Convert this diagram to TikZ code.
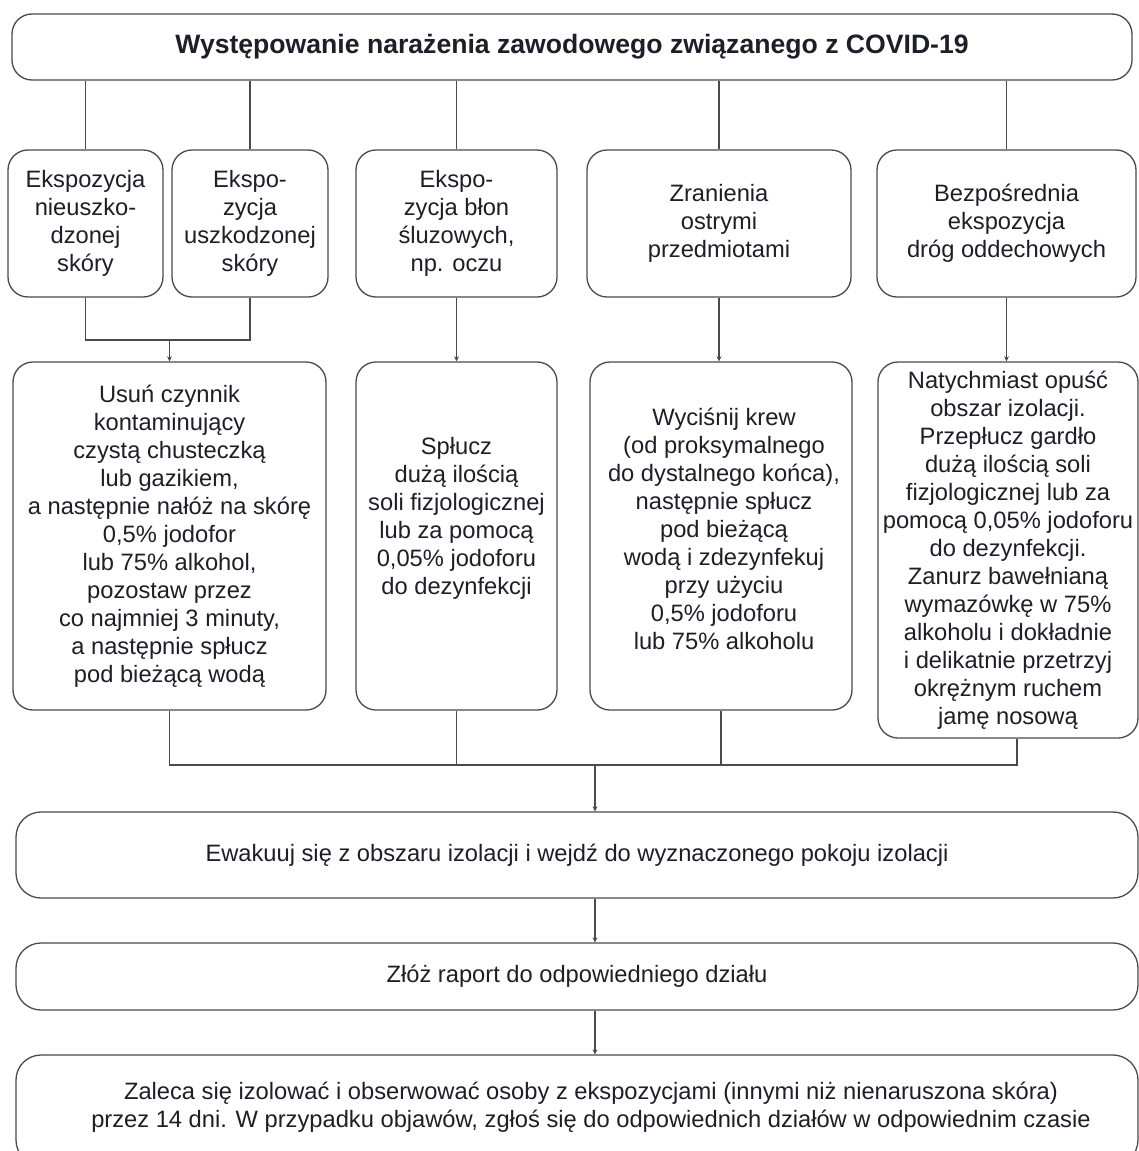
\documentclass[tikz,border=0pt]{standalone}
\usepackage{fontspec}
\setmainfont{Liberation Sans}
\usetikzlibrary{arrows.meta}
\definecolor{txt}{HTML}{1E1E28}
\definecolor{ln}{HTML}{4A4A4A}
\begin{document}
\begin{tikzpicture}[x=1pt,y=-1pt,
  box/.style={draw=ln, line width=1.3pt, rounded corners=20pt, rectangle, align=center,
    inner sep=0pt, text=txt, font=\fontsize{23.7}{28}\selectfont},
  lbl/.style={align=center, inner sep=0pt, text=txt, font=\fontsize{23.7}{28}\selectfont},
  conn/.style={draw=ln, line width=1.3pt},
  arr/.style={conn, -{Stealth[length=5pt,width=5pt]}}]
\useasboundingbox (0,0) rectangle (1139,1151);
\clip (0,0) rectangle (1139,1151);
\fill[white] (0,0) rectangle (1139,1151);

\node[box, minimum width=1120, minimum height=66, font=\fontsize{26.6}{30}\selectfont\bfseries] (top) at (572,47)
  {Występowanie narażenia zawodowego związanego z COVID-19};

\node[box, minimum width=155, minimum height=147] (b1) at (85.5,223.5)
  {Ekspozycja\\nieuszko-\\dzonej\\skóry};
\node[box, minimum width=156, minimum height=147] (b2) at (250,223.5)
  {Ekspo-\\zycja\\uszkodzonej\\skóry};
\node[box, minimum width=201, minimum height=147] (b3) at (456.5,223.5)
  {Ekspo-\\zycja błon\\śluzowych,\\np. oczu};
\node[box, minimum width=264, minimum height=147] (b4) at (719,223.5)
  {Zranienia\\ostrymi\\przedmiotami};
\node[box, minimum width=259, minimum height=147] (b5) at (1006.5,223.5)
  {Bezpośrednia\\ekspozycja\\dróg oddechowych};

\node[box, minimum width=313, minimum height=348] (c1) at (169.5,536)
  {Usuń czynnik\\kontaminujący\\czystą chusteczką\\lub gazikiem,\\a następnie nałóż na skórę\\0,5\% jodofor\\lub 75\% alkohol,\\pozostaw przez\\co najmniej 3 minuty,\\a następnie spłucz\\pod bieżącą wodą};
\node[box, minimum width=201, minimum height=348] (c2) at (456.5,536) {};
\node[lbl] (c2t) at (456.5,518)
  {Spłucz\\dużą ilością\\soli fizjologicznej\\lub za pomocą\\0,05\% jodoforu\\do dezynfekcji};
\node[box, minimum width=262, minimum height=348] (c3) at (721,536) {};
\node[lbl] (c3t) at (724,529)
  {Wyciśnij krew\\(od proksymalnego\\do dystalnego końca),\\następnie spłucz\\pod bieżącą\\wodą i zdezynfekuj\\przy użyciu\\0,5\% jodoforu\\lub 75\% alkoholu};
\node[box, minimum width=260, minimum height=376] (c4) at (1008,550)
  {Natychmiast opuść\\obszar izolacji.\\Przepłucz gardło\\dużą ilością soli\\fizjologicznej lub za\\pomocą 0,05\% jodoforu\\do dezynfekcji.\\Zanurz bawełnianą\\wymazówkę w 75\%\\alkoholu i dokładnie\\i delikatnie przetrzyj\\okrężnym ruchem\\jamę nosową};

\node[box, rounded corners=25pt, minimum width=1122, minimum height=86] (d1) at (577,855)
  {Ewakuuj się z obszaru izolacji i wejdź do wyznaczonego pokoju izolacji};
\node[box, rounded corners=25pt, minimum width=1122, minimum height=67] (d2) at (577,976.5)
  {Złóż raport do odpowiedniego działu};
\node[box, rounded corners=25pt, minimum width=1122, minimum height=110] (d3) at (577,1110)
  {};
\node[lbl] (d3t) at (591,1107)
  {Zaleca się izolować i obserwować osoby z ekspozycjami (innymi niż nienaruszona skóra)\\przez 14 dni. W przypadku objawów, zgłoś się do odpowiednich działów w odpowiednim czasie};

% top to row 2
\foreach \n in {b1,b2,b3,b4,b5}
  \draw[conn] (\n.north |- top.south) -- (\n.north);

% row 2 to row 3
\coordinate (j1) at (c1.north |- 0,340);
\draw[conn] (b1.south) |- (j1) -| (b2.south);
\draw[arr] (j1) -- (c1.north);
\draw[arr] (b3.south) -- (c2.north);
\draw[arr] (b4.south) -- (b4.south |- c3.north);
\draw[arr] (b5.south) -- (b5.south |- c4.north);

% row 3 to bottom
\coordinate (hr) at (1017,765);
\coordinate (j2) at (595,765);
\draw[conn] (c1.south) |- (hr) -- (hr |- c4.south);
\draw[conn] (c2.south) -- (c2.south |- hr);
\draw[conn] (c3.south) -- (c3.south |- hr);
\draw[arr] (j2) -- (j2 |- d1.north);
\draw[arr] (j2 |- d1.south) -- (j2 |- d2.north);
\draw[arr] (j2 |- d2.south) -- (j2 |- d3.north);
\end{tikzpicture}
\end{document}
